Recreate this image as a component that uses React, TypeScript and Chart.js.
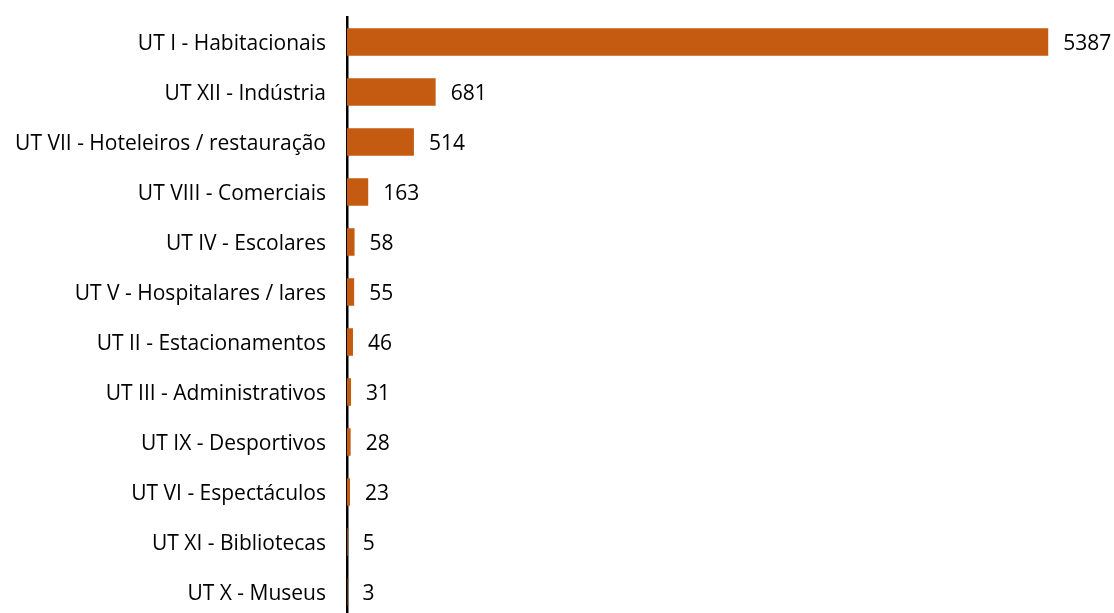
import React, { useEffect, useRef } from "react";
import { Chart, registerables } from "chart.js";

Chart.register(...registerables);

const categories: string[] = [
  "UT I - Habitacionais",
  "UT XII - Indústria",
  "UT VII - Hoteleiros / restauração",
  "UT VIII - Comerciais",
  "UT IV - Escolares",
  "UT V - Hospitalares / lares",
  "UT II - Estacionamentos",
  "UT III - Administrativos",
  "UT IX - Desportivos",
  "UT VI - Espectáculos",
  "UT XI - Bibliotecas",
  "UT X - Museus",
];
const values: number[] = [5387, 681, 514, 163, 58, 55, 46, 31, 28, 23, 5, 3];

const FONT = "'Open Sans', sans-serif";
const FONT_SIZE = 21;

export default function App() {
  const ref = useRef<HTMLCanvasElement | null>(null);
  useEffect(() => {
    if (!ref.current) return;
    const valueLabels = {
      id: "valueLabels",
      afterDatasetsDraw(chart: any) {
        const ctx = chart.ctx;
        const meta = chart.getDatasetMeta(0);
        ctx.save();
        ctx.font = `${FONT_SIZE}px ${FONT}`;
        ctx.fillStyle = "#000";
        ctx.textAlign = "left";
        ctx.textBaseline = "middle";
        meta.data.forEach((bar: any, i: number) => {
          ctx.fillText(String(values[i]), bar.x + 15, bar.y + 2.5);
        });
        ctx.restore();
      },
    };
    const chart = new Chart(ref.current, {
      type: "bar",
      data: {
        labels: categories,
        datasets: [
          {
            data: values,
            backgroundColor: "#C55A11",
            borderWidth: 0,
            categoryPercentage: 1,
            barPercentage: 0.55,
          },
        ],
      },
      options: {
        indexAxis: "y",
        animation: false,
        responsive: false,
        maintainAspectRatio: false,
        layout: { padding: { left: 0, right: 12, top: 17, bottom: 0 } },
        plugins: { legend: { display: false }, tooltip: { enabled: false } },
        scales: {
          x: {
            min: 0,
            max: 5800,
            display: false,
          },
          y: {
            grid: { display: false, drawTicks: false },
            border: { display: true, color: "#000", width: 2.5 },
            ticks: {
              color: "#000",
              padding: 21,
              labelOffset: 2,
              font: { family: FONT, size: FONT_SIZE },
            },
            afterFit: (s: any) => {
              s.width = 347;
              s.paddingTop = 0;
              s.paddingBottom = 0;
            },
          },
        },
      },
      plugins: [valueLabels],
    });
    return () => chart.destroy();
  }, []);
  return (
    <div
      style={{
        position: "fixed",
        left: 0,
        top: 0,
        width: 1114,
        height: 613,
        overflow: "hidden",
        background: "#fff",
      }}
    >
      <canvas ref={ref} width={1114} height={617} style={{ display: "block" }} />
    </div>
  );
}
